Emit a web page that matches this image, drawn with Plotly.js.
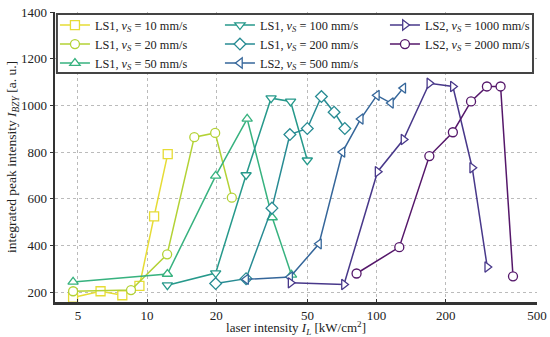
<!DOCTYPE html>
<html>
<head>
<meta charset="utf-8">
<script src="https://cdn.plot.ly/plotly-3.0.1.min.js"></script>
<style>
  html, body { margin: 0; padding: 0; background: #fff; }
  #plot { width: 550px; height: 337px; }
</style>
</head>
<body>
<div id="plot"></div>
<script>
// laser intensity [kW/cm2] and integrated peak intensity [a. u.] per scan speed
var x10 = [4.76, 6.27, 7.8, 9.26, 10.73, 12.3];
var y10 = [177, 204, 187, 227, 525, 791];
var x20 = [4.76, 8.51, 12.23, 16.06, 19.8, 23.4];
var y20 = [204, 209, 362, 864, 882, 605];
var x50 = [4.76, 12.26, 19.9, 27.3, 35.1, 42.6];
var y50 = [244, 278, 698, 942, 520, 274];
var x100 = [12.26, 19.9, 27.0, 34.7, 42.2, 49.9];
var y100 = [230, 282, 702, 1031, 1017, 765];
var x200 = [19.9, 27.0, 35.0, 41.9, 49.9, 57.5, 65.3, 72.7];
var y200 = [237, 258, 560, 875, 901, 1038, 971, 901];
var x500 = [27.0, 42.0, 56.1, 71.0, 85.3, 100.3, 115.5, 130.7];
var y500 = [255, 265, 407, 800, 942, 1043, 1010, 1074];
var x1000 = [42.2, 72.1, 101, 131, 169.8, 215, 261, 303.5];
var y1000 = [240, 233, 716, 854, 1095, 1081, 733, 308];
var x2000 = [81.8, 125.6, 169.8, 215, 258, 302.5, 347, 393];
var y2000 = [280, 393, 783, 885, 1017, 1081, 1081, 268];

var names = [
  'LS1, <i>v<sub>S</sub></i> = 10 mm/s',
  'LS1, <i>v<sub>S</sub></i> = 20 mm/s',
  'LS1, <i>v<sub>S</sub></i> = 50 mm/s',
  'LS1, <i>v<sub>S</sub></i> = 100 mm/s',
  'LS1, <i>v<sub>S</sub></i> = 200 mm/s',
  'LS2, <i>v<sub>S</sub></i> = 500 mm/s',
  'LS2, <i>v<sub>S</sub></i> = 1000 mm/s',
  'LS2, <i>v<sub>S</sub></i> = 2000 mm/s'
];
var colors = ['#e6dc35', '#b3d235', '#37b27f', '#26998b', '#278b93', '#35669a', '#48388a', '#55176a'];
var symbols = ['square', 'circle', 'triangle-up', 'triangle-down', 'diamond', 'triangle-left', 'triangle-right', 'circle'];
var ranks = [1, 4, 7, 2, 5, 8, 3, 6];
var xs = [x10, x20, x50, x100, x200, x500, x1000, x2000];
var ys = [y10, y20, y50, y100, y200, y500, y1000, y2000];

var serif = 'Liberation Serif, DejaVu Serif, serif';
var graphs = [];
for (var i = 0; i < xs.length; i++) {
  graphs.push({
    x: xs[i],
    y: ys[i],
    mode: 'lines+markers',
    name: names[i],
    legendrank: ranks[i],
    line: { color: colors[i], width: 1.5 },
    marker: { symbol: symbols[i], size: 9, color: '#fff', line: { color: colors[i], width: 1.3 } },
  });
}

var xr = [Math.log10(3.97), Math.log10(500)];
var yr = [158, 1400];
var layout = {
  width: 550,
  height: 337,
  margin: { l: 55, r: 13, t: 12, b: 35, autoexpand: false },
  paper_bgcolor: '#fff',
  plot_bgcolor: '#fff',
  font: { family: serif, size: 13, color: '#222' },
  showlegend: true,
  legend: {
    orientation: 'h',
    x: -0.0001, y: 1.005, xanchor: 'left', yanchor: 'top',
    entrywidth: 120,
    bgcolor: 'rgba(0,0,0,0)', borderwidth: 0,
    font: { family: serif, size: 12.3, color: '#222' },
    tracegroupgap: 0,
  },
  // legend frame
  shapes: [{
    type: 'rect', xref: 'paper', yref: 'paper', layer: 'above',
    x0: 0.004, x1: 0.9917, y0: 0.7897, y1: 0.9931,
    fillcolor: '#fff', line: { color: '#444', width: 2 },
  }],
  xaxis: {
    type: 'log', range: xr,
    tickvals: [5, 10, 20, 50, 100, 200, 500],
    ticktext: ['5', '10', '20', '50', '100', '200', '500'],
    ticks: 'inside', ticklen: 3, tickcolor: '#333',
    ticklabelstandoff: 0,
    showline: true, linewidth: 2.5, linecolor: '#333',
    showgrid: true, gridcolor: '#bbb', griddash: 'dot', gridwidth: 1,
    zeroline: false,
    title: { text: 'laser intensity <i>I<sub>L</sub></i> [kW/cm<sup>2</sup>]', standoff: 0, font: { family: serif, size: 13 } },
  },
  xaxis2: {
    type: 'log', range: xr, overlaying: 'x', side: 'top',
    tickvals: [5, 10, 20, 50, 100, 200, 500],
    ticks: 'outside', ticklen: 3, tickcolor: '#333',
    showticklabels: false, showgrid: false, zeroline: false,
    showline: true, linewidth: 1, linecolor: '#333',
  },
  yaxis: {
    range: yr, dtick: 200, tick0: 0,
    ticks: 'outside', ticklen: 3, tickcolor: '#333',
    showline: true, linewidth: 2.5, linecolor: '#333',
    showgrid: true, gridcolor: '#bbb', griddash: 'dot', gridwidth: 1,
    zeroline: false,
    title: { text: 'integrated peak intensity <i>I<sub>BZY</sub></i> [a. u.]', standoff: 0, font: { family: serif, size: 13.5 } },
  },
  yaxis2: {
    range: yr, overlaying: 'y', side: 'right', dtick: 200, tick0: 0,
    ticks: 'inside', ticklen: 5, tickcolor: '#333',
    minor: { dtick: 100, ticks: 'inside', ticklen: 3, tickcolor: '#333' },
    showticklabels: false, showgrid: false, zeroline: false,
    showline: true, linewidth: 1.5, linecolor: '#333',
  },
};

Plotly.newPlot('plot', graphs, layout, { staticPlot: true });
</script>
</body>
</html>
